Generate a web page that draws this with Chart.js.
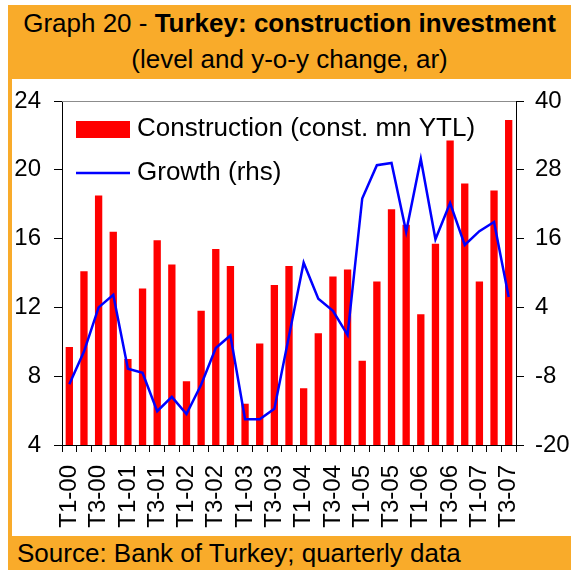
<!DOCTYPE html>
<html>
<head>
<meta charset="utf-8">
<script src="https://cdn.jsdelivr.net/npm/chart.js@4.4.1/dist/chart.umd.min.js"></script>
<style>
  html, body { margin: 0; padding: 0; background: #ffffff; }
  body { width: 571px; height: 570px; position: relative; overflow: hidden; font-family: "Liberation Sans", Arial, sans-serif; }
  #frame { position: absolute; left: 8px; top: 5px; width: 563px; height: 565px; background: #F9AB2A; }
  #title { position: absolute; left: 8px; top: 5px; width: 563px; height: 74px; text-align: center; color: #000; }
  #title .l1 { position: absolute; left: 0; width: 100%; top: 3px; font-size: 26px; line-height: 30px; white-space: nowrap; }
  #title .l2 { position: absolute; left: 0; width: 100%; top: 39px; font-size: 26px; line-height: 30px; white-space: nowrap; }
  #plotbox { position: absolute; left: 12px; top: 79px; width: 559px; height: 457px; background: #ffffff; }
  #plotbox canvas { display: block; }
  #footer { position: absolute; left: 17px; top: 537px; font-size: 26px; line-height: 32px; color: #000; white-space: nowrap; }
</style>
</head>
<body>
<div id="frame"></div>
<div id="title">
  <div class="l1">Graph 20 - <b>Turkey: construction investment</b></div>
  <div class="l2">(level and y-o-y change, ar)</div>
</div>
<div id="plotbox"><canvas id="c" width="559" height="457"></canvas></div>
<div id="footer">Source: Bank of Turkey; quarterly data</div>
<script>
const categories = [
  "T1-00","T2-00","T3-00","T4-00",
  "T1-01","T2-01","T3-01","T4-01",
  "T1-02","T2-02","T3-02","T4-02",
  "T1-03","T2-03","T3-03","T4-03",
  "T1-04","T2-04","T3-04","T4-04",
  "T1-05","T2-05","T3-05","T4-05",
  "T1-06","T2-06","T3-06","T4-06",
  "T1-07","T2-07","T3-07"
];
const construction = [
  9.7, 14.1, 18.5, 16.4,
  9.0, 13.1, 15.9, 14.5,
  7.7, 11.8, 15.4, 14.4,
  6.4, 9.9, 13.3, 14.4,
  7.3, 10.5, 13.8, 14.2,
  8.9, 13.5, 17.7, 16.8,
  11.6, 15.7, 21.7, 19.2,
  13.5, 18.8, 22.9
];
const growth = [
  -9.4, -3.7, 4.0, 6.2,
  -6.7, -7.4, -14.1, -11.6,
  -14.6, -9.5, -3.1, -0.9,
  -15.5, -15.5, -13.7, -1.0,
  11.8, 5.5, 3.4, -0.8,
  23.0, 28.8, 29.2, 17.2,
  29.9, 15.9, 22.2, 14.9,
  17.3, 18.9, 5.8
];
const leftTicks = [4, 8, 12, 16, 20, 24];
const rightTicks = [-20, -8, 4, 16, 28, 40];
const seriesNames = ["Construction (const. mn YTL)", "Growth (rhs)"];

const FONT = "'Liberation Sans', Arial, sans-serif";

const extras = {
  id: 'extras',
  afterDraw(chart) {
    const ctx = chart.ctx;
    const a = chart.chartArea;
    ctx.save();
    ctx.strokeStyle = '#8c8c8c';
    ctx.lineWidth = 1;
    ctx.beginPath();
    ctx.moveTo(a.left, Math.round(a.top) + 0.5);
    ctx.lineTo(a.right, Math.round(a.top) + 0.5);
    ctx.stroke();
    ctx.fillStyle = '#FF0000';
    ctx.fillRect(64, 42, 54, 17);
    ctx.strokeStyle = '#0000FF';
    ctx.lineWidth = 2.5;
    ctx.beginPath();
    ctx.moveTo(64, 94);
    ctx.lineTo(118, 94);
    ctx.stroke();
    ctx.fillStyle = '#000';
    ctx.font = "26px " + FONT;
    ctx.textBaseline = 'middle';
    ctx.textAlign = 'left';
    ctx.fillText(seriesNames[0], 125, 50);
    ctx.fillText(seriesNames[1], 125, 94);
    ctx.restore();
  }
};

function fixY(width) {
  return function(s) { s.width = width; s.paddingTop = 0; s.paddingBottom = 0; };
}

new Chart(document.getElementById('c'), {
  data: {
    labels: categories,
    datasets: [
      {
        type: 'line',
        label: seriesNames[1],
        data: growth,
        yAxisID: 'y2',
        borderColor: '#0000FF',
        borderWidth: 2.5,
        pointRadius: 0,
        tension: 0,
        fill: false,
        order: 0
      },
      {
        type: 'bar',
        label: seriesNames[0],
        data: construction,
        yAxisID: 'y',
        backgroundColor: '#FF0000',
        borderWidth: 0,
        barPercentage: 0.5,
        categoryPercentage: 1.0,
        order: 1
      }
    ]
  },
  options: {
    responsive: false,
    devicePixelRatio: 1,
    animation: false,
    layout: { padding: { top: 22, left: 0, right: 0, bottom: 0 } },
    plugins: { legend: { display: false }, tooltip: { enabled: false }, title: { display: false } },
    scales: {
      x: {
        type: 'category',
        offset: true,
        grid: { offset: true, drawOnChartArea: false, drawTicks: true, tickLength: 7, color: '#000' },
        border: { display: true, color: '#000', width: 1 },
        ticks: {
          autoSkip: false,
          maxRotation: 90,
          minRotation: 90,
          padding: 13,
          color: '#000',
          font: { family: FONT, size: 24 },
          callback: function(v, i) { return i % 2 === 0 ? categories[i] : ''; }
        },
        afterFit(s) { s.height = 91; s.paddingLeft = 0; s.paddingRight = 0; }
      },
      y: {
        position: 'left',
        min: leftTicks[0],
        max: leftTicks[leftTicks.length - 1],
        grid: { drawOnChartArea: false, drawTicks: true, tickLength: 8, color: '#000' },
        border: { display: true, color: '#000', width: 1 },
        ticks: {
          stepSize: leftTicks[1] - leftTicks[0],
          padding: 13,
          color: '#000',
          font: { family: FONT, size: 24 }
        },
        afterFit: fixY(50)
      },
      y2: {
        position: 'right',
        min: rightTicks[0],
        max: rightTicks[rightTicks.length - 1],
        grid: { drawOnChartArea: false, drawTicks: true, tickLength: 8, color: '#000' },
        border: { display: true, color: '#000', width: 1 },
        ticks: {
          stepSize: rightTicks[1] - rightTicks[0],
          padding: 11,
          color: '#000',
          font: { family: FONT, size: 24 }
        },
        afterFit: fixY(55)
      }
    }
  },
  plugins: [extras]
});
</script>
</body>
</html>
